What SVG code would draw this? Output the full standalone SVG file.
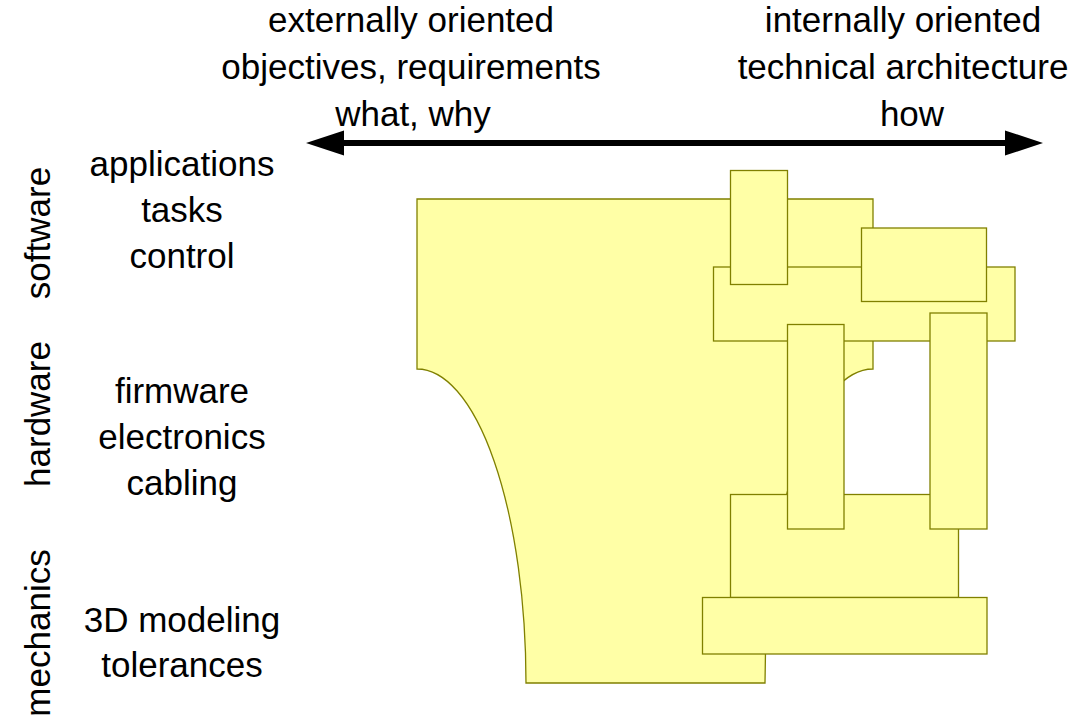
<svg xmlns="http://www.w3.org/2000/svg" width="1087" height="715" viewBox="0 0 1087 715">
<style>
.t{font-family:"Liberation Sans",Arial,Helvetica,sans-serif;font-size:35px;fill:#000;text-anchor:middle}
.s{fill:#ffffa6;stroke:#808000;stroke-width:1.3}
</style>
<defs>
<marker id="ah" markerUnits="userSpaceOnUse" markerWidth="40" markerHeight="28" viewBox="0 -14 40 28" refX="1" refY="0" orient="auto-start-reverse" overflow="visible">
<path d="M0,-12.5 L38,0 L0,12.5 Z" fill="#000"/>
</marker>
</defs>
<rect width="1087" height="715" fill="#fff"/>
<g id="header-left">
<text class="t" x="411" y="32">externally oriented</text>
<text class="t" x="411" y="79">objectives, requirements</text>
<text class="t" x="413" y="126">what, why</text>
</g>
<g id="header-right">
<text class="t" x="903" y="32">internally oriented</text>
<text class="t" x="903" y="79">technical architecture</text>
<text class="t" x="912" y="126">how</text>
</g>
<g id="connectors">
<line x1="343" y1="143" x2="1006" y2="143" stroke="#000" stroke-width="6" marker-start="url(#ah)" marker-end="url(#ah)"/>
</g>
<g id="layer-labels">
<text class="t" transform="translate(50,233) rotate(-90)">software</text>
<text class="t" transform="translate(50,414) rotate(-90)">hardware</text>
<text class="t" transform="translate(50,633) rotate(-90)">mechanics</text>
</g>
<g id="software-topics">
<text class="t" x="182" y="176">applications</text>
<text class="t" x="182" y="222">tasks</text>
<text class="t" x="182" y="268">control</text>
</g>
<g id="hardware-topics">
<text class="t" x="182" y="403">firmware</text>
<text class="t" x="182" y="449">electronics</text>
<text class="t" x="182" y="495">cabling</text>
</g>
<g id="mechanics-topics">
<text class="t" x="182" y="632">3D modeling</text>
<text class="t" x="182" y="677">tolerances</text>
</g>
<g id="shape-main">
<path class="s" d="M417,199 H873 V369 A108,314 0 0 0 765,683 H526 A109,314 0 0 0 417,369 Z"/>
</g>
<g id="shape-band"><rect class="s" x="713.5" y="267" width="301.5" height="74"/></g>
<g id="shape-a"><rect class="s" x="730.5" y="170.5" width="57" height="114"/></g>
<g id="shape-b"><rect class="s" x="861.5" y="228" width="125" height="73.5"/></g>
<g id="shape-e"><rect class="s" x="730.5" y="494.5" width="228" height="103"/></g>
<g id="shape-c"><rect class="s" x="787.5" y="324.5" width="56.5" height="204.5"/></g>
<g id="shape-d"><rect class="s" x="930" y="313" width="57" height="216"/></g>
<g id="shape-f"><rect class="s" x="702.5" y="597.5" width="284.5" height="56.5"/></g>
</svg>
